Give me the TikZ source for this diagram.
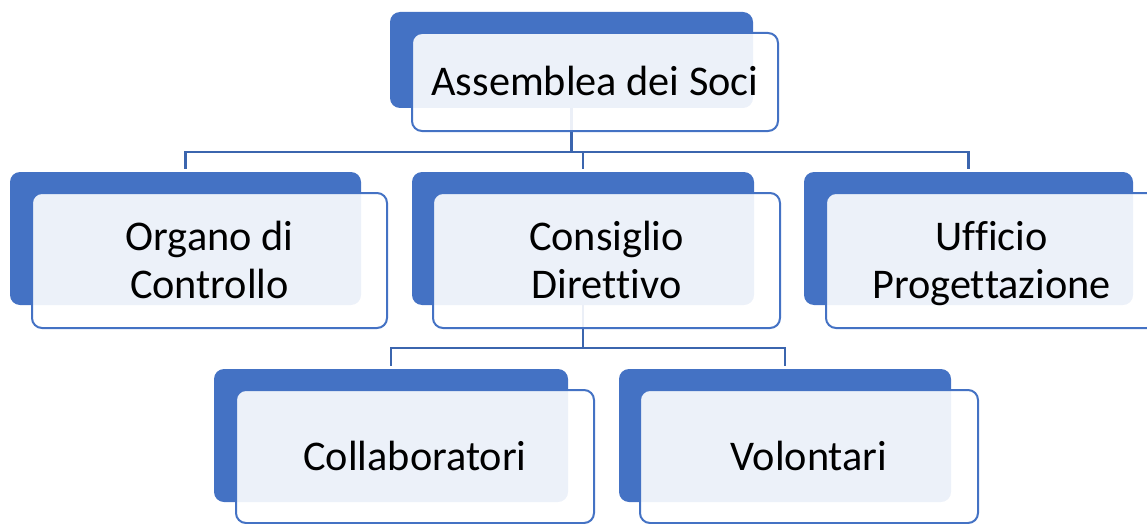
\documentclass[tikz,border=0pt]{standalone}
\usepackage{fontspec}
\setmainfont{Carlito}[Ligatures={NoCommon}]
\definecolor{accent}{HTML}{4472C4}
\definecolor{connc}{HTML}{3B65AE}
\newcommand{\mystrut}{\rule[-10pt]{0pt}{47pt}}
\tikzset{
  backbox/.style={fill=accent, draw=none, rounded corners=10pt, inner sep=0pt},
  frontbox/.style={fill=white, fill opacity=0.9, text opacity=1, draw=accent, line width=2pt, rounded corners=10pt, inner sep=0pt, align=center, font=\fontsize{42.3}{46}\selectfont, text=black},
  conn/.style={draw=connc, line width=2.2pt},
}
\begin{document}
\begin{tikzpicture}[x=1pt,y=-1pt]
\useasboundingbox (0,0) rectangle (1147,524);
% back boxes
\node[backbox, minimum width=363pt, minimum height=96pt] (aB) at (571.5,60) {};
\node[backbox, minimum width=351pt, minimum height=133pt] (oB) at (185.5,238.5) {};
\node[backbox, minimum width=342pt, minimum height=133pt] (cB) at (583,238.5) {};
\node[backbox, minimum width=329pt, minimum height=133pt] (uB) at (968.5,238.5) {};
\node[backbox, minimum width=354pt, minimum height=133pt] (lB) at (391,435.5) {};
\node[backbox, minimum width=332pt, minimum height=133pt] (vB) at (785,435.5) {};
% connectors
\coordinate (bar1) at (0,152);
\coordinate (bar2) at (0,348);
\draw[conn] (aB.south) -- (aB.south |- bar1);
\draw[conn, shorten <=3pt, shorten >=3pt] (oB.north) -- (oB.north |- bar1) -- (uB.north |- bar1) -- (uB.north);
\draw[conn, shorten >=3pt] (cB.north |- bar1) -- (cB.north);
\draw[conn] (cB.south) -- (cB.south |- bar2);
\draw[conn, shorten <=3pt, shorten >=3pt] (lB.north) -- (lB.north |- bar2) -- (vB.north |- bar2) -- (vB.north);
% front boxes
\node[frontbox, minimum width=366pt, minimum height=98pt] (a) at (595,82) {\mystrut Assemblea dei Soci};
\node[frontbox, minimum width=355pt, minimum height=135pt] (o) at (209.5,260.5) {\mystrut Organo di\\\mystrut Controllo};
\node[frontbox, minimum width=347pt, minimum height=135pt] (c) at (606.5,260.5) {\mystrut Consiglio\\\mystrut Diret\kern0pt tivo};
\node[frontbox, minimum width=331pt, minimum height=135pt] (u) at (991.5,260.5) {\mystrut Uf\kern0pt f\kern0pt icio\\\mystrut Proget\kern0pt tazione};
\node[frontbox, minimum width=358pt, minimum height=133pt] (l) at (415,456.5) {\mystrut Collaboratori};
\node[frontbox, minimum width=338pt, minimum height=133pt] (v) at (809,456.5) {\mystrut Volontari};
\end{tikzpicture}
\end{document}
